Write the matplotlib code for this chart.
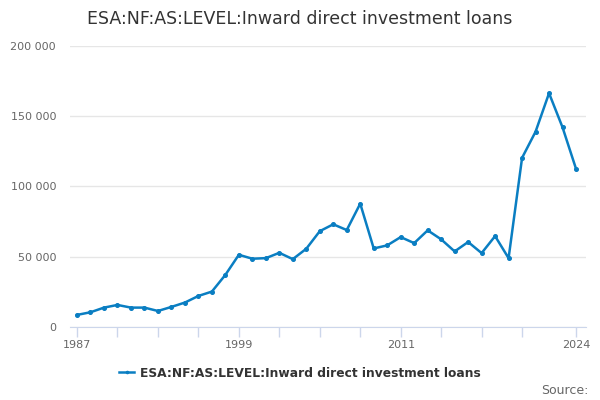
import matplotlib
matplotlib.use('Agg')
import matplotlib.pyplot as plt
from matplotlib.ticker import FuncFormatter

# dados
anos = list(range(1987, 2025))
valores = [8600, 10500, 13800, 15700, 13800, 13800, 11400, 14300, 17400, 22100,
           25200, 37100, 51400, 48600, 49000, 52800, 48300, 55700, 68200, 73100,
           69000, 87800, 55900, 58100, 64000, 59700, 68800, 62400, 53800, 60500,
           52600, 64700, 49000, 120400, 139000, 166400, 142100, 112600]
nome_serie = 'ESA:NF:AS:LEVEL:Inward direct investment loans'
ticks_x = list(range(1987, 2021, 3)) + [2024]
rotulos_x = {1987: '1987', 1999: '1999', 2011: '2011', 2024: '2024'}
ticks_y = [0, 50000, 100000, 150000, 200000]

cor_linha = '#0a7ec2'
cor_texto = '#666666'

fig = plt.figure(figsize=(6, 4), dpi=100)
ax = fig.add_axes([70/600, 73/400, 516/600, 281/400])

ax.plot(anos, valores, color=cor_linha, linewidth=1.8, marker='o', markersize=2.6,
        label=nome_serie)

ax.set_xlim(1986.48, 2024.74)
ax.set_ylim(0, 200000)
ax.set_yticks(ticks_y)
ax.yaxis.set_major_formatter(FuncFormatter(lambda v, p: f'{int(v):,}'.replace(',', ' ')))
ax.grid(axis='y', color='#e6e6e6', linewidth=1)
ax.set_axisbelow(True)

ax.set_xticks(ticks_x)
ax.set_xticklabels([rotulos_x.get(a, '') for a in ticks_x])

for lado in ['top', 'right', 'left']:
    ax.spines[lado].set_visible(False)
ax.spines['bottom'].set_color('#ccd6eb')
ax.tick_params(axis='x', colors='#ccd6eb', length=7.5, width=1, labelcolor=cor_texto,
               labelsize=8, pad=2)
ax.tick_params(axis='y', length=0, labelcolor=cor_texto, labelsize=8, pad=10)

fig.text(0.5, 0.953, nome_serie, ha='center', va='center', fontsize=12.5, color='#333333')

leg = fig.legend(loc='center', bbox_to_anchor=(0.5, 0.067), frameon=False,
                 prop={'weight': 'bold', 'size': 8.8}, handlelength=1.2,
                 handletextpad=0.5, markerscale=0.6)
for t in leg.get_texts():
    t.set_color('#333333')

fig.text(0.98, 0.025, 'Source:', ha='right', va='center', fontsize=9, color=cor_texto)

fig.savefig('out.png', dpi=100)
